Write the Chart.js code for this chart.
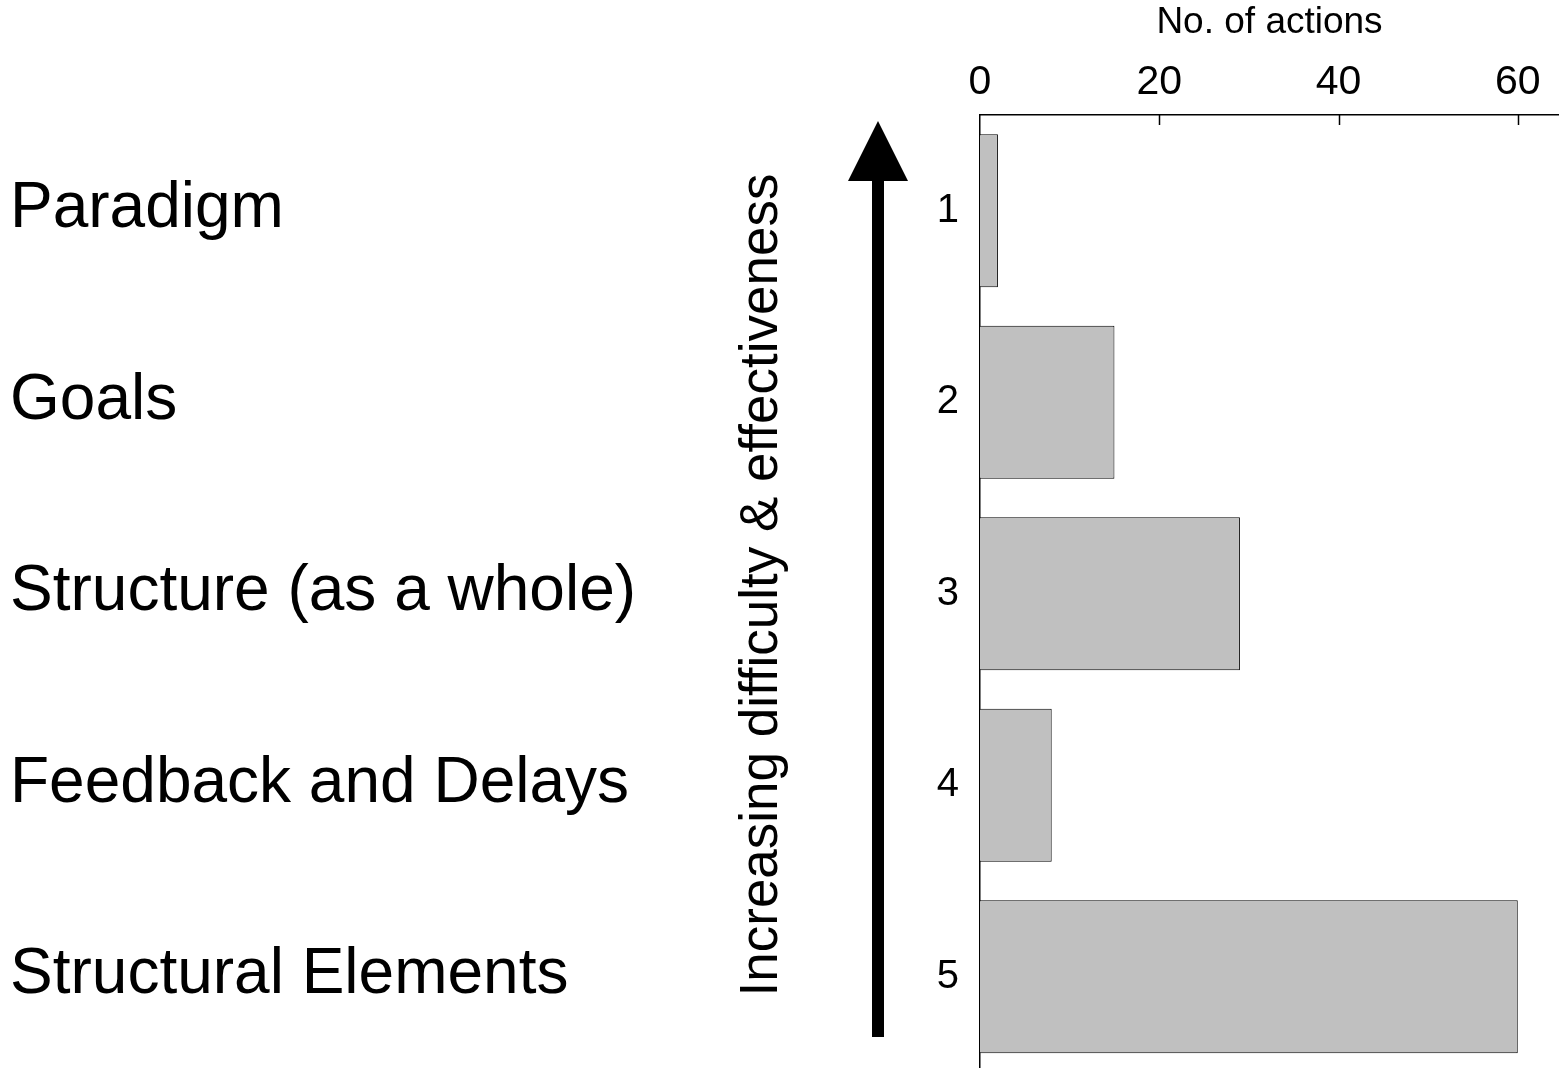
<!DOCTYPE html>
<html>
<head>
<meta charset="utf-8">
<title>No. of actions</title>
<script src="https://cdn.jsdelivr.net/npm/chart.js@4.4.1/dist/chart.umd.min.js"></script>
<style>
  html, body { margin: 0; padding: 0; background: #fff; overflow: hidden; }
  #wrap { width: 1559px; height: 1080px; }
</style>
</head>
<body>
<div id="wrap"><canvas id="actionsChart" width="1559" height="1080"></canvas></div>
<script>
// Dữ liệu biểu đồ
const categories = ["1", "2", "3", "4", "5"];
const actionCounts = [2, 15, 29, 8, 60];
const levelNames = [
  "Paradigm",
  "Goals",
  "Structure (as a whole)",
  "Feedback and Delays",
  "Structural Elements",
];
const xTickValues = [0, 20, 40, 60];
const axisTitle = "No. of actions";
const arrowLabel = "Increasing difficulty & effectiveness";

const FONT = "'Liberation Sans', Arial, Helvetica, sans-serif";

// Plugin vẽ nhãn bên trái, mũi tên và vạch chia hướng vào trong
const sidePlugin = {
  id: "sideDecor",
  afterDraw(chart) {
    const ctx = chart.ctx;
    const xScale = chart.scales.x;
    const yScale = chart.scales.y;
    const area = chart.chartArea;

    ctx.save();

    // vạch chia trục x (hướng xuống)
    ctx.strokeStyle = "#000";
    ctx.lineWidth = 1.5;
    xTickValues.forEach((v) => {
      if (v === 0) return;
      const px = Math.round(xScale.getPixelForValue(v)) + 0.5;
      ctx.beginPath();
      ctx.moveTo(px, area.top);
      ctx.lineTo(px, area.top + 10);
      ctx.stroke();
    });

    // tên các mức bên trái
    ctx.fillStyle = "#000";
    ctx.font = "64px " + FONT;
    ctx.textAlign = "left";
    ctx.textBaseline = "middle";
    levelNames.forEach((name, i) => {
      const py = yScale.getPixelForValue(i);
      ctx.fillText(name, 10, py - 1);
    });

    // mũi tên
    const arrowX = 878;
    ctx.fillRect(arrowX - 6, 178, 12, 1037 - 178);
    ctx.beginPath();
    ctx.moveTo(arrowX, 121);
    ctx.lineTo(arrowX + 30, 181);
    ctx.lineTo(arrowX - 30, 181);
    ctx.closePath();
    ctx.fill();

    // chữ xoay dọc
    ctx.translate(762.5, 585);
    ctx.rotate(-Math.PI / 2);
    ctx.font = "53px " + FONT;
    ctx.textAlign = "center";
    ctx.textBaseline = "middle";
    ctx.fillText(arrowLabel, 0, 0);

    ctx.restore();
  },
};

const ctxActions = document.getElementById("actionsChart").getContext("2d");

const actionsChart = new Chart(ctxActions, {
  type: "bar",
  data: {
    labels: categories,
    datasets: [
      {
        label: axisTitle,
        data: actionCounts,
        backgroundColor: "#c0c0c0",
        borderColor: "#000",
        borderWidth: 1,
        categoryPercentage: 1,
        barPercentage: 0.8,
      },
    ],
  },
  options: {
    indexAxis: "y",
    responsive: false,
    devicePixelRatio: 1,
    animation: false,
    layout: {
      padding: { left: 935, right: 0, top: 0, bottom: 7.5 },
    },
    plugins: {
      legend: { display: false },
      tooltip: { enabled: false },
    },
    scales: {
      x: {
        type: "linear",
        position: "top",
        min: 0,
        max: 64.6,
        afterBuildTicks: (scale) => {
          scale.ticks = xTickValues.map((v) => ({ value: v }));
        },
        afterFit: (scale) => {
          scale.height = 115;
        },
        grid: { display: false, drawTicks: false },
        border: { display: true, color: "#000", width: 1.5 },
        ticks: {
          color: "#000",
          padding: 8,
          maxRotation: 0,
          font: { family: FONT, size: 41 },
        },
        title: {
          display: true,
          text: axisTitle,
          color: "#000",
          padding: { top: 1, bottom: 0 },
          font: { family: FONT, size: 37 },
        },
      },
      y: {
        type: "category",
        afterFit: (scale) => {
          scale.width = 45;
          scale.paddingTop = 0;
          scale.paddingBottom = 0;
        },
        grid: { display: false, drawTicks: false },
        border: { display: true, color: "#000", width: 1.5 },
        ticks: {
          color: "#000",
          padding: 21,
          font: { family: FONT, size: 40 },
        },
      },
    },
  },
  plugins: [sidePlugin],
});
</script>
</body>
</html>
